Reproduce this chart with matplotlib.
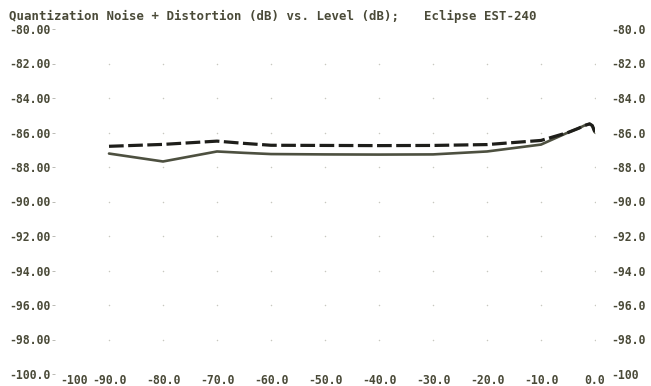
import matplotlib
matplotlib.use("Agg")
import matplotlib.pyplot as plt
import numpy as np

# level sweep (dB) and measured noise + distortion (dB) for both channels
level = [-90, -80, -70, -65, -60, -50, -40, -30, -20, -10, -5, -3, -2, -1, -0.5, 0]
ch_solid = [-87.22, -87.68, -87.10, -87.18, -87.25, -87.27, -87.28, -87.27, -87.10, -86.70,
            -86.00, -85.75, -85.60, -85.50, -85.60, -86.00]
ch_dashed = [-86.80, -86.69, -86.50, -86.63, -86.74, -86.75, -86.76, -86.75, -86.70, -86.46,
             -86.00, -85.75, -85.60, -85.50, -85.60, -86.00]

x_ticks = [-100, -90, -80, -70, -60, -50, -40, -30, -20, -10, 0]
x_labels = ["", "-90.0", "-80.0", "-70.0", "-60.0", "-50.0", "-40.0", "-30.0", "-20.0", "-10.0", "0.0"]
y_ticks = [-100, -98, -96, -94, -92, -90, -88, -86, -84, -82, -80]
y_left = ["-100.0", "-98.00", "-96.00", "-94.00", "-92.00", "-90.00", "-88.00", "-86.00", "-84.00", "-82.00", "-80.00"]
y_right = ["-100", "-98.0", "-96.0", "-94.0", "-92.0", "-90.0", "-88.0", "-86.0", "-84.0", "-82.0", "-80.0"]

title = "Quantization Noise + Distortion (dB) vs. Level (dB);"
unit = "Eclipse EST-240"

txt = "#4a4a38"
font = dict(family="DejaVu Sans Mono", weight="bold", size=8.3, color=txt)
tfont = dict(font, size=8.9)

W, H = 651, 386
fig = plt.figure(figsize=(W / 100, H / 100), dpi=100)
ax = fig.add_axes([55 / W, 12 / H, 540 / W, 345 / H])
ax.set_xlim(-100, 0)
ax.set_ylim(-100, -80)
for s in ax.spines.values():
    s.set_visible(False)

# faint dots at the grid crossings
gx, gy = np.meshgrid(x_ticks[1:], y_ticks[1:-1])
ax.scatter(gx.ravel(), gy.ravel(), s=1.2, color="#c8c8c0", lw=0, zorder=1)

ax.plot(level, ch_solid, color="#4d5040", lw=1.9, solid_joinstyle="round",
        solid_capstyle="round", zorder=3)
ax.plot(level, ch_dashed, color="#1e1e1a", lw=2.3, dashes=(4.6, 1.4), zorder=4)

ax.set_xticks(x_ticks)
ax.set_xticklabels(x_labels, fontdict=font)
ax.set_yticks(y_ticks)
ax.set_yticklabels(y_left, fontdict=font)
ax.tick_params(axis="x", length=0, pad=0)
ax.tick_params(axis="y", length=2, width=0.6, color="#b0b0a8", pad=1)

# first x label sits off to the right of the corner label
ax.annotate("-100", xy=(-100, -100), xycoords="data", xytext=(14, -4.5),
            textcoords="offset points", ha="center", va="center", **font)

ra = ax.twinx()
ra.set_ylim(-100, -80)
for s in ra.spines.values():
    s.set_visible(False)
ra.set_yticks(y_ticks)
ra.set_yticklabels(y_right, fontdict=font)
ra.tick_params(axis="y", length=0, pad=12)

fig.text(9 / W, 1 - 16 / H, title, ha="left", va="center", **tfont)
fig.text(424 / W, 1 - 16 / H, unit, ha="left", va="center", **tfont)

fig.savefig("out.png", dpi=100, facecolor="white")
